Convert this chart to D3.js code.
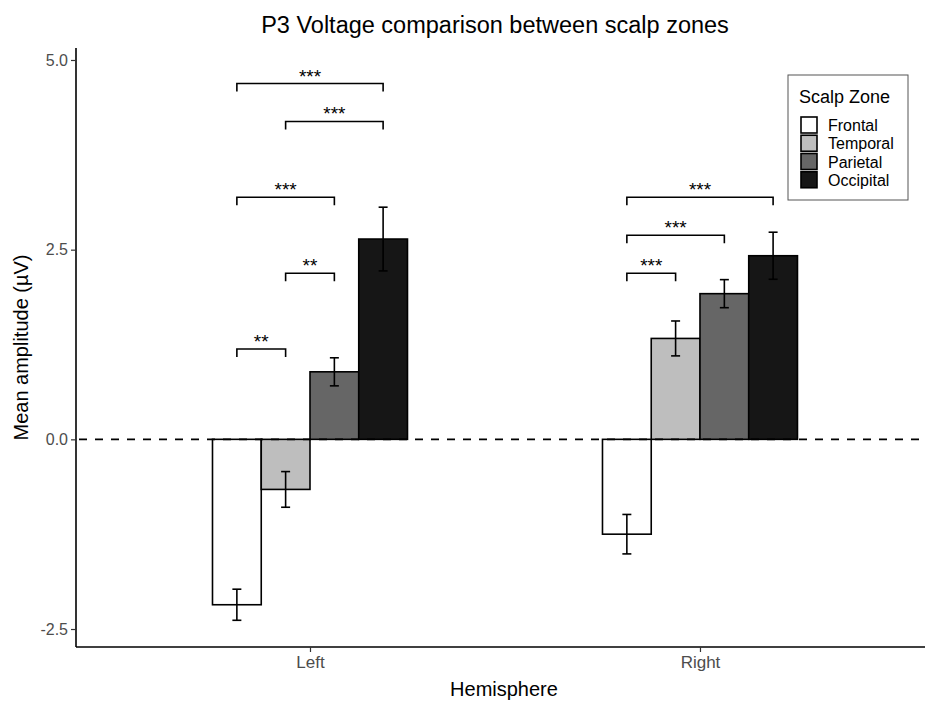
<!DOCTYPE html>
<html lang="en">
<head>
<meta charset="UTF-8">
<title>P3 Voltage</title>
<script src="https://cdn.jsdelivr.net/npm/d3@7"></script>
<style>
    body { margin: 0; background: #fff; }
    text { font-family: "Liberation Sans", Arial, sans-serif; }
</style>
</head>
<body>
<svg width="925" height="702"></svg>
<script>
    // data
    var hemispheres = ["Left", "Right"];
    var zones = ["Frontal", "Temporal", "Parietal", "Occipital"];
    var zoneFill = ["#ffffff", "#bebebe", "#666666", "#161616"];
    var leftMeans = [-2.18, -0.66, 0.89, 2.64];
    var leftErr = [0.205, 0.235, 0.185, 0.42];
    var rightMeans = [-1.25, 1.33, 1.92, 2.42];
    var rightErr = [0.26, 0.23, 0.185, 0.31];
    var yTicks = [-2.5, 0, 2.5, 5];
    var yTickLabels = ["-2.5", "0.0", "2.5", "5.0"];

    // significance brackets: hemisphere, from zone, to zone, height, label
    var sigHemi = ["Left", "Left", "Left", "Left", "Left", "Right", "Right", "Right"];
    var sigFrom = [0, 1, 0, 1, 0, 0, 0, 0];
    var sigTo = [1, 2, 2, 3, 3, 1, 2, 3];
    var sigY = [1.19, 2.19, 3.19, 4.19, 4.69, 2.19, 2.69, 3.19];
    var sigLabel = ["**", "**", "***", "***", "***", "***", "***", "***"];

    var bars = [];
    hemispheres.forEach(function (h, hi) {
        var m = hi == 0 ? leftMeans : rightMeans;
        var e = hi == 0 ? leftErr : rightErr;
        zones.forEach(function (z, zi) {
            bars.push({hemi: h, hi: hi, zone: z, zi: zi, mean: m[zi], err: e[zi]});
        });
    });

    var svg = d3.select("svg");
    var pLeft = 76, pRight = 925, pTop = 48, pBottom = 647;

    var y = d3.scaleLinear().domain([-2.737, 5.158]).range([pBottom, pTop]);
    var x = d3.scaleLinear().domain([0.4, 2.577]).range([pLeft, pRight]);
    var barW = 0.125;

    function barX(d) { return (d.hi + 1) - 0.25 + d.zi * barW; }
    function barCenter(hi, zi) { return x((hi + 1) - 0.25 + (zi + 0.5) * barW); }

    // bars
    svg.append("g").selectAll("rect")
        .data(bars)
        .enter()
        .append("rect")
        .attr("x", function (d) { return x(barX(d)); })
        .attr("width", function (d) { return x(barX(d) + barW) - x(barX(d)); })
        .attr("y", function (d) { return y(Math.max(0, d.mean)); })
        .attr("height", function (d) { return Math.abs(y(d.mean) - y(0)); })
        .attr("fill", function (d) { return zoneFill[d.zi]; })
        .attr("stroke", "#000")
        .attr("stroke-width", 1.6);

    // error bars
    var eb = svg.append("g").attr("stroke", "#000").attr("stroke-width", 1.6);
    bars.forEach(function (d) {
        var cx = barCenter(d.hi, d.zi);
        eb.append("line").attr("x1", cx).attr("x2", cx)
            .attr("y1", y(d.mean - d.err)).attr("y2", y(d.mean + d.err));
        [d.mean - d.err, d.mean + d.err].forEach(function (v) {
            eb.append("line").attr("x1", cx - 4.5).attr("x2", cx + 4.5)
                .attr("y1", y(v)).attr("y2", y(v));
        });
    });

    // zero line
    svg.append("line")
        .attr("x1", pLeft).attr("x2", pRight)
        .attr("y1", y(0)).attr("y2", y(0))
        .attr("stroke", "#000")
        .attr("stroke-width", 1.6)
        .attr("stroke-dasharray", "8,8")
        .attr("stroke-dashoffset", -3);

    // brackets
    var br = svg.append("g");
    sigY.forEach(function (v, i) {
        var hi = hemispheres.indexOf(sigHemi[i]);
        var x1 = barCenter(hi, sigFrom[i]), x2 = barCenter(hi, sigTo[i]);
        var yy = y(v);
        br.append("path")
            .attr("d", "M" + x1 + "," + (yy + 8) + "V" + yy + "H" + x2 + "V" + (yy + 8))
            .attr("fill", "none")
            .attr("stroke", "#000")
            .attr("stroke-width", 1.6);
        br.append("text")
            .attr("x", (x1 + x2) / 2)
            .attr("y", yy - 1)
            .attr("text-anchor", "middle")
            .attr("font-size", 19)
            .text(sigLabel[i]);
    });

    // axes
    var yAxis = svg.append("g")
        .attr("transform", "translate(" + pLeft + ",0)")
        .call(d3.axisLeft(y).tickValues(yTicks)
            .tickFormat(function (d, i) { return yTickLabels[i]; })
            .tickSizeOuter(0).tickSize(5));
    yAxis.select(".domain").attr("stroke-width", 1.6).attr("d", "M0," + pTop + "V" + pBottom);
    yAxis.selectAll(".tick line").attr("stroke", "#333").attr("stroke-width", 1.2);
    yAxis.selectAll(".tick text").attr("font-size", 16).attr("fill", "#4d4d4d").attr("x", -8);

    var xAxis = svg.append("g")
        .attr("transform", "translate(0," + pBottom + ")")
        .call(d3.axisBottom(x).tickValues([1, 2]).tickFormat(function (d) { return hemispheres[d - 1]; }).tickSizeOuter(0).tickSize(5));
    xAxis.select(".domain").attr("stroke-width", 1.6).attr("d", "M" + pLeft + ",0H" + pRight);
    xAxis.selectAll(".tick line").attr("stroke", "#333").attr("stroke-width", 1.2);
    xAxis.selectAll(".tick text").attr("font-size", 17).attr("fill", "#4d4d4d").attr("y", 9);

    // titles
    svg.append("text").attr("x", 495).attr("y", 33)
        .attr("text-anchor", "middle").attr("font-size", 23.5)
        .text("P3 Voltage comparison between scalp zones");
    svg.append("text").attr("x", 504).attr("y", 696)
        .attr("text-anchor", "middle").attr("font-size", 20)
        .text("Hemisphere");
    svg.append("text")
        .attr("transform", "translate(28," + ((pTop + pBottom) / 2) + ") rotate(-90)")
        .attr("text-anchor", "middle").attr("font-size", 20)
        .text("Mean amplitude (µV)");

    // legend
    var lg = svg.append("g").attr("transform", "translate(788,75)");
    lg.append("rect").attr("width", 120).attr("height", 125)
        .attr("fill", "#fff").attr("stroke", "#555").attr("stroke-width", 1);
    lg.append("text").attr("x", 11).attr("y", 28).attr("font-size", 18).text("Scalp Zone");
    zones.forEach(function (z, i) {
        lg.append("rect").attr("x", 13).attr("y", 42 + i * 18.25)
            .attr("width", 16).attr("height", 16)
            .attr("fill", zoneFill[i]).attr("stroke", "#000").attr("stroke-width", 1.6);
        lg.append("text").attr("x", 40).attr("y", 56 + i * 18.25)
            .attr("font-size", 16).text(z);
    });
</script>
</body>
</html>
